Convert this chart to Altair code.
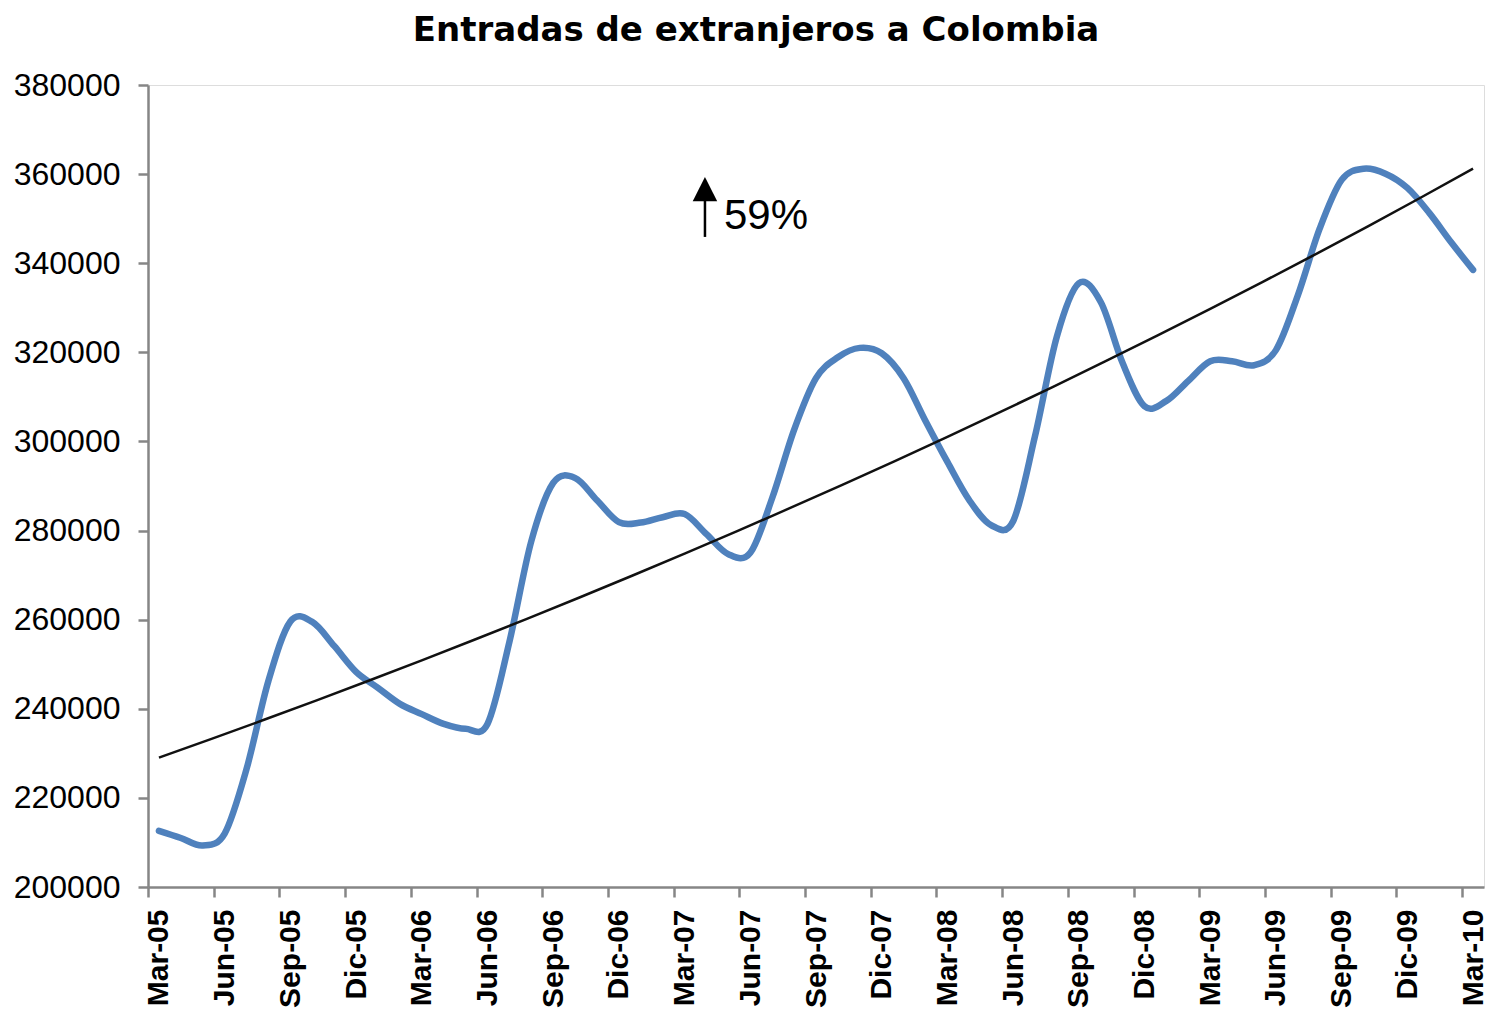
import json
import altair as alt
import pandas as pd

# Quarterly tick labels (one every 3 months)
tick_labels = ["Mar-05", "Jun-05", "Sep-05", "Dic-05",
               "Mar-06", "Jun-06", "Sep-06", "Dic-06",
               "Mar-07", "Jun-07", "Sep-07", "Dic-07",
               "Mar-08", "Jun-08", "Sep-08", "Dic-08",
               "Mar-09", "Jun-09", "Sep-09", "Dic-09",
               "Mar-10"]

# Monthly values, Mar-05 .. Mar-10 (61 points)
values = [212600, 211000, 209300, 212000, 226500, 246300, 259600, 259500,
          254100, 248300, 244700, 241100, 238800, 236600, 235500, 236600,
          255000, 277600, 290700, 291800, 286800, 281900, 281800, 283000,
          283700, 279200, 274700, 275000, 287300, 302600, 314200, 318900,
          321000, 319800, 314200, 304600, 295400, 286800, 281200, 282100,
          301200, 323600, 335500, 331300, 317600, 307900, 309100, 313600,
          318000, 318000, 317100, 320500, 332800, 347800, 358700, 361200,
          360100, 356900, 351300, 344700, 338500]

month_index = list(range(len(values)))

# Annotation ("↑ 59%")
arrow_x = [24.93]
arrow_y_bottom = [345900]
arrow_y_top = [355500]
arrow_head_y = [356630]
note_text = ["59%"]
note_x = [25.80]
note_y = [347650]

df = pd.DataFrame({"m": month_index, "v": values})
arrow_df = pd.DataFrame({"x": arrow_x, "y": arrow_y_bottom, "y2": arrow_y_top})
head_df = pd.DataFrame({"x": arrow_x, "y": arrow_head_y})
note_df = pd.DataFrame({"x": note_x, "y": note_y, "t": note_text})

PLOT_W = 1336
PLOT_H = 802
HALF = PLOT_W / len(values) / 2

AX = "#868686"
x_scale = alt.Scale(domain=[-0.5, len(values) - 0.5], nice=False, zero=False)
y_scale = alt.Scale(domain=[200000, 380000], nice=False, zero=False)

label_expr = json.dumps(tick_labels) + "[round(datum.value / 3)]"

x_axis = alt.Axis(
    values=list(range(0, len(values), 3)),
    labelExpr=label_expr,
    tickOffset=-HALF,
    labelOffset=HALF,
    labelAngle=270,
    labelAlign="right",
    labelBaseline="middle",
    labelFont="Liberation Sans",
    labelFontWeight="bold",
    labelFontSize=30,
    labelColor="#000000",
    labelPadding=12,
    labelOverlap=False,
    labelFlush=False,
    tickSize=10,
    tickWidth=2.5,
    tickColor=AX,
    domainColor=AX,
    domainWidth=2.5,
    grid=False,
    title=None,
)

y_axis = alt.Axis(
    values=list(range(200000, 380001, 20000)),
    format="d",
    labelFont="Liberation Sans",
    labelFontSize=32,
    labelColor="#000000",
    labelPadding=18,
    tickSize=10,
    tickWidth=2.5,
    tickColor=AX,
    domainColor=AX,
    domainWidth=2.5,
    grid=False,
    title=None,
)

base = alt.Chart(df)

series = base.mark_line(
    interpolate="cardinal", color="#4F81BD", strokeWidth=6.5, strokeCap="round"
).encode(
    x=alt.X("m:Q", scale=x_scale, axis=x_axis),
    y=alt.Y("v:Q", scale=y_scale, axis=y_axis),
)

# Exponential trendline (least squares on ln(v), as a spreadsheet does)
trend = (
    base.transform_calculate(lnv="log(datum.v)")
    .transform_regression("m", "lnv", method="poly", order=1)
    .transform_calculate(tv="exp(datum.lnv)")
    .mark_line(color="#111111", strokeWidth=2.5)
    .encode(
        x=alt.X("m:Q", scale=x_scale),
        y=alt.Y("tv:Q", scale=y_scale),
    )
)

arrow = alt.Chart(arrow_df).mark_rule(color="#000000", strokeWidth=2.5).encode(
    x=alt.X("x:Q", scale=x_scale),
    y=alt.Y("y:Q", scale=y_scale),
    y2="y2:Q",
)

head = alt.Chart(head_df).mark_point(
    shape="M0,-1L1,1L-1,1Z", filled=True, color="#000000", size=600, opacity=1
).encode(
    x=alt.X("x:Q", scale=x_scale),
    y=alt.Y("y:Q", scale=y_scale),
)

note = alt.Chart(note_df).mark_text(
    align="left", baseline="alphabetic", font="Liberation Sans",
    fontSize=42, color="#000000"
).encode(
    x=alt.X("x:Q", scale=x_scale),
    y=alt.Y("y:Q", scale=y_scale),
    text="t:N",
)

chart = alt.layer(series, trend, arrow, head, note).properties(
    width=PLOT_W,
    height=PLOT_H,
    title=alt.TitleParams(
        text="Entradas de extranjeros a Colombia",
        font="DejaVu Sans",
        fontSize=34,
        fontWeight="bold",
        color="#000000",
        anchor="middle",
        frame="group",
        dx=-60,
        offset=21,
    ),
    autosize=alt.AutoSizeParams(type="none"),
    padding={"left": 140, "top": 77, "right": 10, "bottom": 123},
).configure_view(stroke=None).configure(background="#ffffff")

chart.save("out.html", embed_options={"renderer": "svg", "actions": False})
